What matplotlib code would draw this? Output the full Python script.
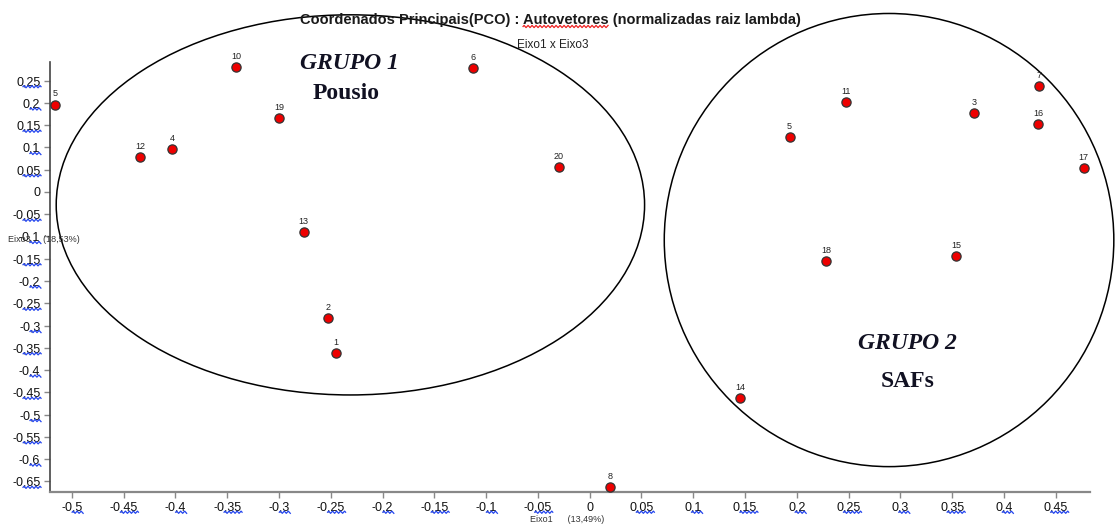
import matplotlib
matplotlib.use("Agg")
import matplotlib.pyplot as plt
from matplotlib.patches import Ellipse
from matplotlib.lines import Line2D
from matplotlib.transforms import IdentityTransform
import numpy as np

plt.rcParams['font.family'] = ['Liberation Sans', 'DejaVu Sans']

# data
labels = ['5', '10', '12', '4', '19', '6', '20', '13', '2', '1',
          '5', '11', '3', '7', '16', '17', '18', '15', '14', '8']
eixo1 = [-0.516, -0.341, -0.434, -0.403, -0.300, -0.113, -0.030, -0.276, -0.253, -0.245,
         0.193, 0.247, 0.371, 0.434, 0.433, 0.477, 0.228, 0.354, 0.145, 0.020]
eixo3 = [0.196, 0.281, 0.079, 0.097, 0.166, 0.279, 0.056, -0.090, -0.283, -0.362,
         0.124, 0.202, 0.177, 0.238, 0.153, 0.054, -0.155, -0.144, -0.463, -0.663]
xticks = [-0.5, -0.45, -0.4, -0.35, -0.3, -0.25, -0.2, -0.15, -0.1, -0.05,
          0, 0.05, 0.1, 0.15, 0.2, 0.25, 0.3, 0.35, 0.4, 0.45]
yticks = [0.25, 0.2, 0.15, 0.1, 0.05, 0, -0.05, -0.1, -0.15, -0.2, -0.25, -0.3,
          -0.35, -0.4, -0.45, -0.5, -0.55, -0.6, -0.65]
title_pre = 'Coordenados Principais(PCO) : '
title_word = 'Autovetores'
title_post = ' (normalizadas raiz lambda)'

def fmt(v):
    return ('%g' % v).replace('.', ',')

W, H = 1115, 525
fig = plt.figure(figsize=(W / 100, H / 100), dpi=100)
ax = fig.add_axes([50 / W, 1 - 492 / H, (1090 - 50) / W, (492 - 62) / H])
ax.set_xlim(-0.521, 0.483)
ax.set_ylim(-0.674, 0.292)

ax.scatter(eixo1, eixo3, s=44, c='#ee0000', edgecolors='#333333', linewidths=0.9, zorder=3, clip_on=False)
for lx, x, y in zip(labels, eixo1, eixo3):
    ax.annotate(lx, (x, y), xytext=(0, 4.5), textcoords='offset points', ha='center', va='bottom',
                fontsize=6.5, color='#222222', annotation_clip=False)

# ellipses
ax.add_patch(Ellipse((-0.231, -0.029), 0.568, 0.854, fill=False, ec='black', lw=1.1, clip_on=False))
ax.add_patch(Ellipse((0.289, -0.108), 0.434, 1.018, fill=False, ec='black', lw=1.1, clip_on=False))

ax.set_xticks(xticks)
ax.set_xticklabels([fmt(v) for v in xticks])
ax.set_yticks(yticks)
ax.set_yticklabels([fmt(v) for v in yticks])
ax.tick_params(axis='both', labelsize=9, length=4, color='#888888', width=1, labelcolor='#111111', pad=3)

for s in ['top', 'right']:
    ax.spines[s].set_visible(False)
ax.spines['left'].set_color('#444444')
ax.spines['left'].set_linewidth(1.2)
ax.spines['bottom'].set_color('#888888')
ax.spines['bottom'].set_linewidth(1.6)

# group labels
serif = ['Liberation Serif', 'DejaVu Serif']
gcol = '#111122'
ax.text(-0.232, 0.288, 'GRUPO 1', family=serif, style='italic', fontweight='bold', fontsize=17,
        ha='center', va='center', color=gcol)
ax.text(-0.235, 0.221, 'Pousio', family=serif, fontweight='bold', fontsize=17,
        ha='center', va='center', color=gcol)
ax.text(0.307, -0.34, 'GRUPO 2', family=serif, style='italic', fontweight='bold', fontsize=17,
        ha='center', va='center', color=gcol)
ax.text(0.307, -0.425, 'SAFs', family=serif, fontweight='bold', fontsize=17,
        ha='center', va='center', color=gcol)

title = fig.text(550 / W, 1 - 20 / H, title_pre + title_word + title_post,
                 ha='center', va='center', fontsize=10.5, fontweight='bold', color='#1a1a1a')
fig.text(553 / W, 1 - 45 / H, 'Eixo1 x Eixo3', ha='center', va='center', fontsize=8.5, color='#222222')
fig.text(8 / W, 1 - 240 / H, 'Eixo3     (18,53%)', ha='left', va='center', fontsize=6.5, color='#333333')
fig.text(530 / W, 1 - 519 / H, 'Eixo1      (13,49%)', ha='left', va='center', fontsize=6.5, color='#333333')

# spell-check style wavy underlines (as in the reference)
fig.canvas.draw()
renderer = fig.canvas.get_renderer()

def wavy(x0, x1, y, color):
    xs = np.arange(x0, x1 + 0.01, 1.0)
    ys = y + 1.1 * np.sin((xs - x0) * np.pi / 2.0)
    fig.add_artist(Line2D(xs, ys, transform=IdentityTransform(), color=color, lw=0.9))

for lab in list(ax.get_xticklabels()) + list(ax.get_yticklabels()):
    t = lab.get_text()
    if ',' not in t:
        continue
    bb = lab.get_window_extent(renderer)
    idx = t.index(',')
    w_pre, _, _ = renderer.get_text_width_height_descent(t[:idx], lab.get_fontproperties(), ismath=False)
    wavy(bb.x0 + w_pre, bb.x1 + 1, bb.y0 + 1.5, '#2244ee')

bb = title.get_window_extent(renderer)
fp = title.get_fontproperties()
w_pre, _, _ = renderer.get_text_width_height_descent(title_pre, fp, ismath=False)
w_word, _, _ = renderer.get_text_width_height_descent(title_word, fp, ismath=False)
wavy(bb.x0 + w_pre, bb.x0 + w_pre + w_word, bb.y0 + 0.5, '#ee2222')

fig.savefig('out.png', dpi=100)
